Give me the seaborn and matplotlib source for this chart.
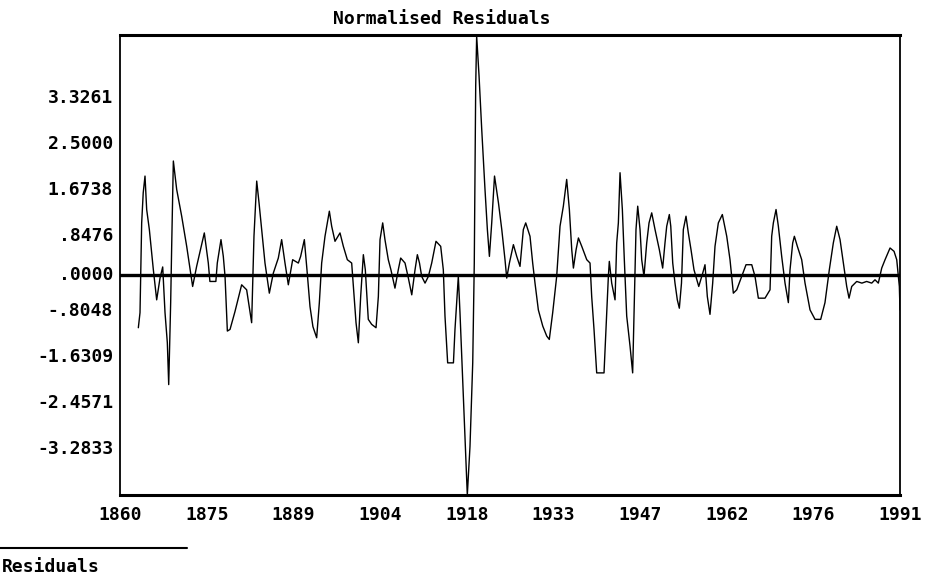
import numpy as np
import matplotlib
matplotlib.use("Agg")
import matplotlib.pyplot as plt
import seaborn as sns
from matplotlib.lines import Line2D

# residual series (fractional years)
years = [1863.08, 1863.36, 1863.64, 1863.9, 1864.2, 1864.48, 1864.93, 1865.6, 1866.16, 1866.72,
         1867.17, 1867.56, 1867.95, 1868.18, 1868.51, 1868.68, 1868.96, 1869.52, 1870.36, 1871.2,
         1872.2, 1872.87, 1874.16, 1874.83, 1875.1, 1876.1, 1876.34, 1876.96, 1877.35, 1877.64,
         1878.03, 1878.48, 1879.31, 1880.43, 1881.27, 1882.11, 1882.5, 1882.96, 1883.35, 1883.8,
         1884.35, 1885.08, 1885.75, 1886.59, 1887.15, 1887.71, 1888.27, 1889.0, 1889.95, 1890.34,
         1890.96, 1891.4, 1891.91, 1892.4, 1893.03, 1893.48, 1893.87, 1894.43, 1895.16, 1895.55,
         1896.11, 1896.95, 1897.51, 1898.18, 1898.91, 1899.19, 1899.64, 1900.03, 1900.42, 1900.87,
         1901.2, 1901.7, 1902.27, 1903.0, 1903.39, 1903.67, 1904.12, 1904.5, 1905.06, 1905.5,
         1906.18, 1906.74, 1907.14, 1907.87, 1908.43, 1909.0, 1909.55, 1909.94, 1910.3, 1910.67,
         1911.23, 1911.79, 1912.35, 1913.07, 1913.86, 1914.3, 1914.58, 1915.03, 1916.0, 1916.26,
         1916.82, 1917.1, 1917.66, 1918.23, 1918.33, 1918.78, 1919.24, 1919.5, 1919.74, 1919.9,
         1920.3, 1920.75, 1921.3, 1921.7, 1922.04, 1922.43, 1922.9, 1923.56, 1924.12, 1924.66,
         1924.95, 1925.4, 1926.07, 1926.63, 1927.18, 1927.74, 1928.14, 1928.86, 1929.31, 1929.7,
         1930.26, 1931.0, 1931.67, 1932.1, 1932.67, 1933.34, 1933.9, 1934.46, 1935.02, 1935.47,
         1935.87, 1936.15, 1936.6, 1936.99, 1937.55, 1938.39, 1938.94, 1939.22, 1939.61, 1940.06,
         1941.29, 1941.74, 1942.02, 1942.18, 1942.58, 1943.14, 1943.42, 1943.7, 1943.98, 1944.37,
         1944.7, 1945.1, 1945.66, 1946.1, 1946.33, 1946.66, 1946.95, 1947.34, 1947.62, 1948.0,
         1948.46, 1948.85, 1949.3, 1949.86, 1950.58, 1951.14, 1951.53, 1951.82, 1952.26, 1952.5,
         1952.83, 1953.21, 1953.6, 1953.94, 1954.3, 1954.61, 1955.06, 1955.45, 1955.9, 1956.4,
         1957.2, 1957.87, 1958.25, 1958.64, 1959.09, 1959.54, 1959.93, 1960.49, 1961.16, 1961.9,
         1962.45, 1963.01, 1963.58, 1964.42, 1965.14, 1966.1, 1966.65, 1967.21, 1968.33, 1969.17,
         1969.45, 1969.73, 1970.18, 1970.57, 1971.13, 1971.69, 1972.25, 1972.53, 1972.98, 1973.26,
         1973.76, 1974.49, 1975.05, 1975.89, 1976.73, 1977.68, 1978.4, 1979.13, 1979.8, 1980.37,
         1980.93, 1981.49, 1982.05, 1982.44, 1982.89, 1983.73, 1984.6, 1985.4, 1986.25, 1986.8,
         1987.36, 1987.93, 1988.49, 1989.33, 1990.0, 1990.45, 1990.89, 1991.0]
resid = [-0.95, -0.68, 0.93, 1.47, 1.77, 1.17, 0.81, 0.09, -0.45, -0.06,
         0.14, -0.68, -1.22, -1.97, -0.5, 0.51, 2.04, 1.53, 1.05, 0.51,
         -0.21, 0.15, 0.75, 0.21, -0.12, -0.12, 0.21, 0.63, 0.33, -0.03,
         -1.01, -0.98, -0.66, -0.18, -0.27, -0.86, 0.69, 1.68, 1.29, 0.81,
         0.21, -0.33, 0.03, 0.30, 0.63, 0.21, -0.18, 0.27, 0.21, 0.33,
         0.63, 0.09, -0.57, -0.93, -1.13, -0.5, 0.21, 0.69, 1.14, 0.87,
         0.6, 0.75, 0.51, 0.27, 0.21, -0.21, -0.86, -1.22, -0.39, 0.36,
         0.09, -0.8, -0.89, -0.95, -0.39, 0.63, 0.93, 0.63, 0.27, 0.09,
         -0.24, 0.09, 0.30, 0.21, -0.06, -0.36, 0.09, 0.36, 0.21, -0.03,
         -0.15, -0.03, 0.21, 0.6, 0.51, 0.09, -0.74, -1.58, -1.58, -0.98,
         -0.03, -0.68, -2.18, -3.74, -3.95, -3.08, -1.58, 0.21, 3.39, 4.28,
         3.57, 2.61, 1.53, 0.81, 0.33, 0.93, 1.77, 1.29, 0.81, 0.27,
         -0.06, 0.21, 0.54, 0.33, 0.15, 0.81, 0.93, 0.69, 0.21, -0.15,
         -0.63, -0.92, -1.1, -1.16, -0.68, -0.03, 0.87, 1.23, 1.71, 1.17,
         0.45, 0.12, 0.45, 0.66, 0.51, 0.27, 0.21, -0.39, -0.98, -1.76,
         -1.76, -0.68, -0.03, 0.24, -0.15, -0.45, 0.57, 0.93, 1.83, 1.17,
         0.27, -0.74, -1.28, -1.76, -0.68, 0.81, 1.23, 0.81, 0.27, -0.03,
         0.57, 0.93, 1.11, 0.81, 0.45, 0.12, 0.57, 0.87, 1.08, 0.87,
         0.21, -0.15, -0.45, -0.6, -0.15, 0.81, 1.05, 0.75, 0.45, 0.09,
         -0.21, 0.03, 0.18, -0.39, -0.71, -0.15, 0.51, 0.93, 1.08, 0.69,
         0.27, -0.33, -0.27, -0.03, 0.18, 0.18, -0.03, -0.42, -0.42, -0.27,
         0.69, 0.93, 1.17, 0.87, 0.33, -0.15, -0.5, 0.09, 0.57, 0.69,
         0.51, 0.27, -0.15, -0.63, -0.8, -0.8, -0.5, 0.09, 0.57, 0.87,
         0.63, 0.21, -0.21, -0.42, -0.21, -0.12, -0.15, -0.12, -0.15, -0.09,
         -0.15, 0.12, 0.27, 0.48, 0.42, 0.27, -0.21, -0.63]

y_ticks = [3.3261, 2.5, 1.6738, 0.8476, 0.0, -0.8048, -1.6309, -2.4571, -3.2833]
y_labels = ["3.3261", "2.5000", "1.6738", ".8476", ".0000", "-.8048", "-1.6309", "-2.4571", "-3.2833"]
x_labels = ["1860", "1875", "1889", "1904", "1918", "1933", "1947", "1962", "1976", "1991"]

sns.set_style("white")
plt.rcParams["font.family"] = ["DejaVu Sans Mono"]
plt.rcParams["font.weight"] = "bold"
plt.rcParams["text.color"] = "black"

fig = plt.figure(figsize=(9.46, 5.82), dpi=100)
ax = fig.add_axes([120 / 946, 87 / 582, 780 / 946, 460 / 582])

sns.lineplot(x=years, y=resid, ax=ax, color="black", linewidth=1.0, estimator=None)
ax.axhline(0, color="black", linewidth=2.4)

ax.set_xlim(1860, 1991)
ax.set_ylim(-3.95, 4.30)

ax.set_xticks(np.linspace(1860, 1991, 10))
ax.set_xticklabels(x_labels, fontsize=13, fontweight="bold")
ax.set_yticks(y_ticks)
ax.set_yticklabels(y_labels, fontsize=13, fontweight="bold")
for lab, v in zip(ax.get_yticklabels(), y_ticks):
    if v > 0:
        lab.set_verticalalignment("top")
    elif v < 0:
        lab.set_verticalalignment("bottom")
    else:
        lab.set_verticalalignment("center")

ax.tick_params(axis="x", direction="in", length=4, width=1, pad=8, colors="black")
ax.tick_params(axis="y", direction="in", length=3, width=1, pad=5, colors="black")
ax.set_xlabel("")
ax.set_ylabel("")

for side in ["top", "bottom"]:
    ax.spines[side].set_linewidth(2.2)
for side in ["left", "right"]:
    ax.spines[side].set_linewidth(1.3)
for s in ax.spines.values():
    s.set_color("black")

fig.text(442 / 946, 1 - 19 / 582, "Normalised Residuals", ha="center", va="center",
         fontsize=13, fontweight="bold", color="black")

# legend at the bottom left
fig.add_artist(Line2D([0, 187 / 946], [1 - 548 / 582, 1 - 548 / 582], color="black", linewidth=1.5))
fig.text(2 / 946, 1 - 567 / 582, "Residuals", ha="left", va="center", fontsize=13,
         fontweight="bold", color="black")

fig.savefig("out.png", dpi=100)
